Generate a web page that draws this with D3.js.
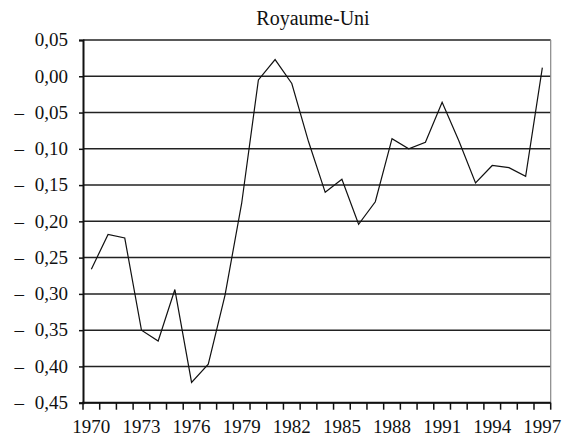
<!DOCTYPE html>
<html>
<head>
<meta charset="utf-8">
<script src="https://cdn.jsdelivr.net/npm/d3@7"></script>
<style>
  html, body { margin: 0; padding: 0; background: #fff; }
  svg { display: block; }
</style>
</head>
<body>
<svg id="chart"></svg>
<script>
const title = "Royaume-Uni";
const years = d3.range(1970, 1998);
const values = [
  -0.266, -0.218, -0.223, -0.350, -0.365, -0.294, -0.422, -0.397, -0.302, -0.175,
  -0.005, 0.023, -0.010, -0.090, -0.160, -0.142, -0.204, -0.173, -0.086, -0.100,
  -0.091, -0.036, -0.089, -0.147, -0.123, -0.126, -0.138, 0.012
];
const yTicks = d3.range(0.05, -0.451, -0.05);
const xLabelYears = [1970, 1973, 1976, 1979, 1982, 1985, 1988, 1991, 1994, 1997];

const width = 562, height = 440;
const margin = {top: 40, left: 83, right: 11.3, bottom: 37.3};
const serif = "Liberation Serif";

const svg = d3.select("#chart").attr("width", width).attr("height", height);

const x = d3.scaleBand()
  .domain(years)
  .range([margin.left, width - margin.right])
  .padding(0);

const y = d3.scaleLinear()
  .domain([-0.45, 0.05])
  .range([height - margin.bottom, margin.top]);

const fmtAbs = v => d3.format(".2f")(Math.abs(v) < 1e-9 ? 0 : Math.abs(v)).replace(".", ",");

// gridlines
svg.append("g")
  .selectAll("line")
  .data(yTicks)
  .join("line")
  .attr("x1", margin.left)
  .attr("x2", width - margin.right)
  .attr("y1", d => y(d))
  .attr("y2", d => y(d))
  .attr("stroke", "#222")
  .attr("stroke-width", 1.5);

// right border
svg.append("line")
  .attr("x1", width - margin.right).attr("x2", width - margin.right)
  .attr("y1", margin.top).attr("y2", height - margin.bottom)
  .attr("stroke", "#888")
  .attr("stroke-width", 1.2);

// y axis
const gy = svg.append("g")
  .attr("transform", `translate(${margin.left},0)`)
  .call(d3.axisLeft(y).tickValues(yTicks).tickSize(4).tickFormat(""));
gy.select(".domain").attr("stroke", "#111").attr("stroke-width", 2);
gy.selectAll(".tick line").attr("stroke", "#111").attr("stroke-width", 1.5);

const ylab = svg.append("g")
  .selectAll("text")
  .data(yTicks)
  .join("text")
  .attr("x", 68)
  .attr("y", d => y(d) + 6.3)
  .attr("text-anchor", "end")
  .attr("font-family", serif)
  .attr("font-size", 19)
  .attr("fill", "#111")
  .text(d => fmtAbs(d));

// minus signs drawn apart from the number
svg.append("g")
  .selectAll("text")
  .data(yTicks.filter(d => d < -1e-9))
  .join("text")
  .attr("x", 24)
  .attr("y", d => y(d) + 6.3)
  .attr("text-anchor", "end")
  .attr("font-family", serif)
  .attr("font-size", 19)
  .attr("fill", "#111")
  .text("\u2013");

// x axis: ticks at category boundaries, labels centred in bands
const boundaries = years.map(d => x(d)).concat([x(years[years.length - 1]) + x.bandwidth()]);
const baseY = y(-0.45);

svg.append("g")
  .selectAll("line")
  .data(boundaries)
  .join("line")
  .attr("x1", d => d).attr("x2", d => d)
  .attr("y1", baseY).attr("y2", baseY + 7)
  .attr("stroke", "#111")
  .attr("stroke-width", 1.5);

svg.append("line")
  .attr("x1", margin.left - 1).attr("x2", width - margin.right)
  .attr("y1", baseY).attr("y2", baseY)
  .attr("stroke", "#111")
  .attr("stroke-width", 2);

svg.append("g")
  .selectAll("text")
  .data(xLabelYears)
  .join("text")
  .attr("x", d => x(d) + x.bandwidth() / 2)
  .attr("y", 432.5)
  .attr("text-anchor", "middle")
  .attr("font-family", serif)
  .attr("font-size", 19)
  .attr("fill", "#111")
  .text(d => d);

// series line
const line = d3.line()
  .x((d, i) => x(years[i]) + x.bandwidth() / 2)
  .y(d => y(d));

svg.append("path")
  .datum(values)
  .attr("d", line)
  .attr("fill", "none")
  .attr("stroke", "#111")
  .attr("stroke-width", 1.2)
  .attr("stroke-linejoin", "miter");

// title
svg.append("text")
  .attr("x", 313)
  .attr("y", 25)
  .attr("text-anchor", "middle")
  .attr("font-family", serif)
  .attr("font-size", 20)
  .attr("fill", "#111")
  .text(title);
</script>
</body>
</html>
